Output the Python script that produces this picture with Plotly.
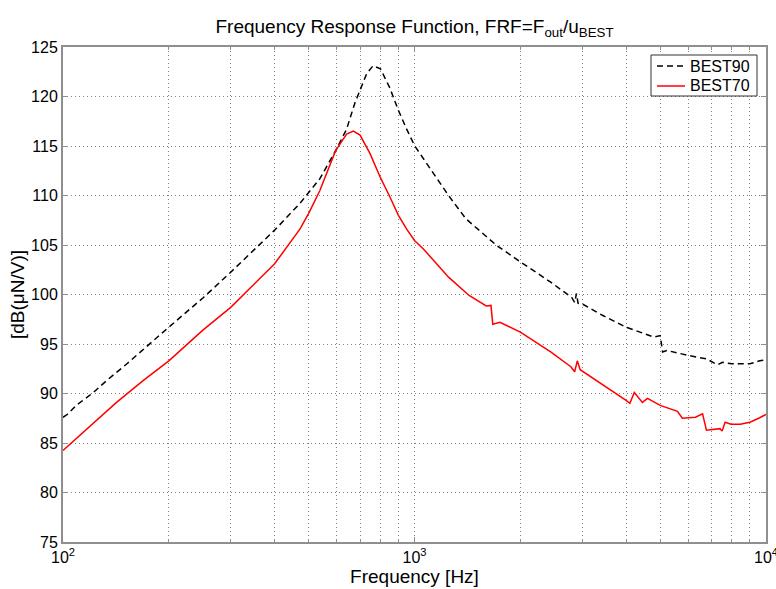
import plotly.graph_objects as go

# BEST90 (black dashed)
f90 = [100, 103, 109, 122, 133, 152, 200, 251, 300, 363, 400, 472, 500, 538, 596, 641, 676, 700, 731, 762,
       800, 850, 900, 950, 1000, 1085, 1130, 1250, 1400, 1713, 2000, 2440, 2800, 2855, 2890, 2920,
       3000, 3425, 4000, 4560, 4800, 5000, 5080, 5220, 6000, 6770, 7270, 7520, 8000, 9000, 9600, 10000]
db90 = [87.6, 87.9, 88.8, 90.1, 91.3, 93.0, 96.7, 99.7, 102.25, 105.0, 106.5, 109.2, 110.3, 111.7, 114.5, 116.7, 119.3, 120.6, 122.3, 123.1,
        122.8, 120.9, 118.6, 116.7, 115.05, 113.2, 112.3, 110.0, 107.65, 104.95, 103.3, 101.25, 99.7, 99.2, 100.1, 99.1,
        99.05, 97.9, 96.7, 96.0, 95.7, 95.85, 94.2, 94.35, 93.85, 93.5, 92.9, 93.15, 93.0, 93.0, 93.3, 93.4]

# BEST70 (red solid)
f70 = [100, 127, 142, 169, 200, 250, 300, 400, 472, 500, 538, 596, 641, 670, 700, 748, 800, 850, 900, 950,
       1000, 1060, 1155, 1250, 1430, 1600, 1650, 1670, 1750, 2000, 2440, 2785, 2855, 2905, 2960,
       3300, 4000, 4100, 4220, 4450, 4600, 5000, 5600, 5780, 6300, 6600, 6770, 7400, 7500, 7650,
       7950, 8450, 9000, 9600, 10000]
db70 = [84.25, 87.6, 89.1, 91.3, 93.3, 96.4, 98.7, 103.1, 106.6, 108.2, 110.5, 114.5, 116.2, 116.5, 116.1, 114.2, 111.8, 109.9, 108.0, 106.6,
        105.45, 104.6, 103.1, 101.75, 99.9, 98.85, 98.9, 97.0, 97.2, 96.2, 94.2, 92.7, 92.2, 93.3, 92.4,
        91.3, 89.3, 89.0, 90.1, 89.1, 89.5, 88.8, 88.2, 87.5, 87.6, 87.95, 86.3, 86.45, 86.2, 87.1,
        86.9, 86.9, 87.1, 87.55, 87.9]

series_names = ["BEST90", "BEST70"]

x_major = [100, 1000, 10000]
x_major_text = ["10<sup>2</sup>", "10<sup>3</sup>", "10<sup>4</sup>"]
x_minor = [200, 300, 400, 500, 600, 700, 800, 900, 2000, 3000, 4000, 5000, 6000, 7000, 8000, 9000]
y_ticks = [75, 80, 85, 90, 95, 100, 105, 110, 115, 120, 125]

FONT = "Liberation Sans, Arial, sans-serif"
GRID = "#808080"
AXIS = "#8f8f8f"
GDASH = "1px,3px"
W, H = 776, 589
ML, MR, MT, MB = 63, 10, 47, 47
PW, PH = W - ML - MR, H - MT - MB

def px(xp):
    return (xp - ML) / PW

def py(yp):
    return (H - MB - yp) / PH

styles = [dict(color="black", width=1.5, dash="6px,4px"), dict(color="#ff0000", width=1.5)]

fig = go.Figure()
fig.add_trace(go.Scatter(x=f90, y=db90, mode="lines", name=series_names[0], line=styles[0]))
fig.add_trace(go.Scatter(x=f70, y=db70, mode="lines", name=series_names[1], line=styles[1]))

# legend box (drawn by hand to match the compact MATLAB legend)
shapes = [dict(type="rect", xref="paper", yref="paper", x0=px(651), x1=px(757), y0=py(96), y1=py(55),
               line=dict(color="#333", width=1), fillcolor="white", layer="above")]
annotations = []
for i, (name, st) in enumerate(zip(series_names, styles)):
    yy = 66 + 20 * i
    shapes.append(dict(type="line", xref="paper", yref="paper", x0=px(657), x1=px(685), y0=py(yy), y1=py(yy),
                       line=st, layer="above"))
    annotations.append(dict(xref="paper", yref="paper", x=px(688), y=py(yy), text=name, showarrow=False,
                            xanchor="left", yanchor="middle", font=dict(size=16, color="black")))

fig.update_layout(
    width=W, height=H,
    margin=dict(l=ML, r=MR, t=MT, b=MB, autoexpand=False),
    paper_bgcolor="white", plot_bgcolor="white",
    font=dict(family=FONT, color="black", size=16),
    title=dict(text="Frequency Response Function, FRF=F<sub>out</sub>/u<sub>BEST</sub>",
               x=0.5, xref="paper", xanchor="center", y=0.955, yanchor="middle", yref="container",
               font=dict(size=19)),
    showlegend=False,
    shapes=shapes,
    annotations=annotations,
    xaxis=dict(type="log", range=[2, 4], tickmode="array", tickvals=x_major, ticktext=x_major_text,
               ticks="inside", ticklen=5, tickcolor=AXIS, showline=True, linecolor=AXIS, linewidth=2,
               mirror="ticks", showgrid=True, gridcolor=GRID, griddash=GDASH, gridwidth=1,
               zeroline=False, tickfont=dict(size=16), automargin=False, ticklabeloverflow="allow",
               minor=dict(tickvals=x_minor, ticks="inside", ticklen=3, tickcolor=AXIS,
                          showgrid=True, gridcolor=GRID, griddash=GDASH, gridwidth=1),
               title=dict(text="Frequency [Hz]", font=dict(size=19), standoff=4)),
    yaxis=dict(range=[75, 125], tickmode="array", tickvals=y_ticks,
               ticks="inside", ticklen=5, tickcolor=AXIS, showline=True, linecolor=AXIS, linewidth=2,
               mirror="ticks", showgrid=True, gridcolor=GRID, griddash=GDASH, gridwidth=1,
               zeroline=False, tickfont=dict(size=16), automargin=False,
               title=dict(text="[dB(μN/V)]", font=dict(size=19), standoff=1)),
)

fig.write_html("out.html", config={"displayModeBar": False},
               post_script="document.body.style.margin='0px';document.body.style.overflow='hidden';")
